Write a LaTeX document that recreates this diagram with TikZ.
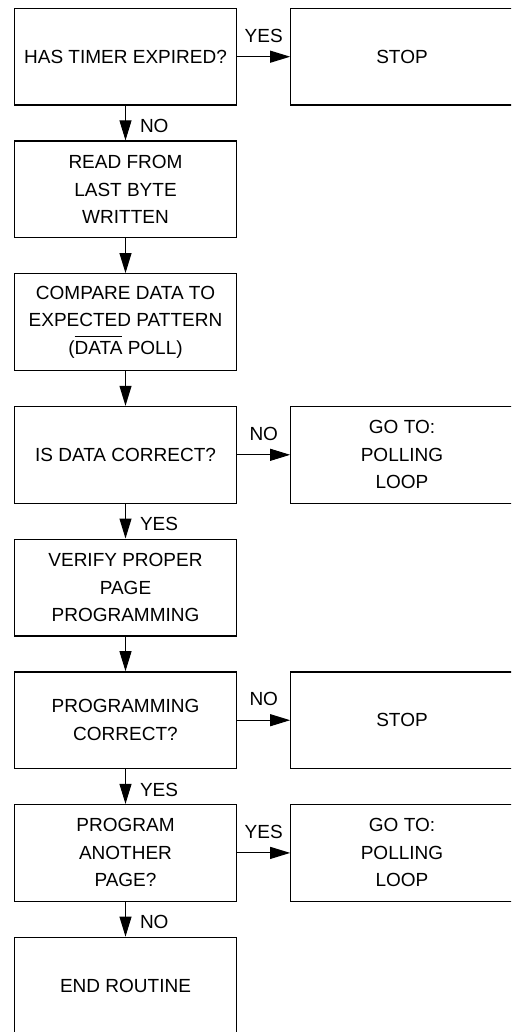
\documentclass[tikz,border=0pt]{standalone}
\usepackage{fontspec}
\setmainfont{Liberation Sans}
\usetikzlibrary{arrows.meta}
\newcommand\ovbar[1]{\vbox{\hrule height 0.9pt\kern 4.5pt\hbox{#1}}}
\begin{document}
\begin{tikzpicture}[x=1pt,y=-1pt,
  box/.style={draw, line width=1.3pt, rectangle, minimum width=222.4pt, minimum height=96.7pt, inner sep=0pt, align=center, font=\fontsize{19}{27.5}\selectfont},
  arr/.style={line width=1pt, -{Triangle[length=20pt,width=12pt]}},
  lbl/.style={font=\fontsize{19}{23}\selectfont, inner sep=0pt},
  vlbl/.style={lbl, midway, anchor=west, xshift=14pt, yshift=-3pt},
  hlbl/.style={lbl, midway, yshift=21pt}]
\useasboundingbox (0,0) rectangle (511,1032);
\clip (0,0) rectangle (511,1032);
% left column
\node[box] (b1) at (125.5,56.7) {HAS TIMER EXPIRED?};
\node[box] (b2) at (125.5,189.4) {READ FROM\\LAST BYTE\\WRITTEN};
\node[box] (b3) at (125.5,322.1) {COMPARE DATA TO\\EXPECTED PATTERN\\(\ovbar{DATA} POLL)};
\node[box] (b4) at (125.5,454.8) {IS DATA CORRECT?};
\node[box] (b5) at (125.5,587.5) {VERIFY PROPER\\PAGE\\PROGRAMMING};
\node[box] (b6) at (125.5,720.2) {PROGRAMMING\\CORRECT?};
\node[box] (b7) at (125.5,852.9) {PROGRAM\\ANOTHER\\PAGE?};
\node[box] (b8) at (125.5,985.6) {END ROUTINE};
% right column
\node[box] (r1) at (402,56.7) {STOP};
\node[box] (r4) at (402,454.8) {GO TO:\\POLLING\\LOOP};
\node[box] (r6) at (402,720.2) {STOP};
\node[box] (r7) at (402,852.9) {GO TO:\\POLLING\\LOOP};
% vertical connectors
\draw[arr] (b1.south) -- node[vlbl] {NO} (b2.north);
\draw[arr] (b2.south) -- (b3.north);
\draw[arr] (b3.south) -- (b4.north);
\draw[arr] (b4.south) -- node[vlbl] {YES} (b5.north);
\draw[arr] (b5.south) -- (b6.north);
\draw[arr] (b6.south) -- node[vlbl] {YES} (b7.north);
\draw[arr] (b7.south) -- node[vlbl] {NO} (b8.north);
% horizontal connectors
\draw[arr] (b1.east) -- node[hlbl] {YES} (r1.west);
\draw[arr] (b4.east) -- node[hlbl] {NO} (r4.west);
\draw[arr] (b6.east) -- node[hlbl] {NO} (r6.west);
\draw[arr] (b7.east) -- node[hlbl] {YES} (r7.west);
\end{tikzpicture}
\end{document}
